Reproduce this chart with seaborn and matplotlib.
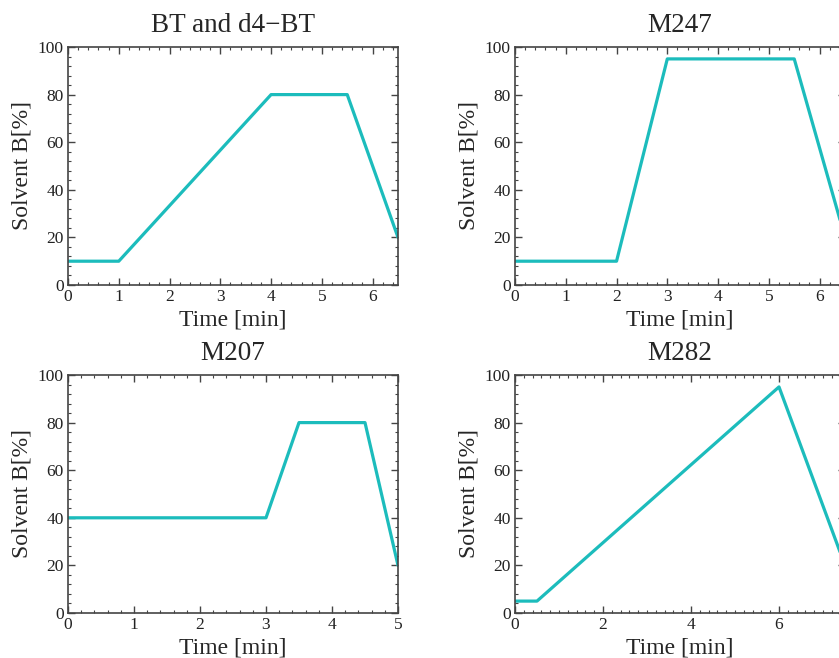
import matplotlib
matplotlib.use("Agg")
import matplotlib.pyplot as plt
from matplotlib.ticker import MultipleLocator, AutoMinorLocator
import seaborn as sns
import pandas as pd

# Data
titles = ["BT and d4\u2212BT", "M247", "M207", "M282"]
bt_time = [0, 1, 4, 5.5, 6.5]
bt_b = [10, 10, 80, 80, 20]
m247_time = [0, 2, 3, 5.5, 6.5]
m247_b = [10, 10, 95, 95, 20]
m207_time = [0, 3, 3.5, 4.5, 5]
m207_b = [40, 40, 80, 80, 20]
m282_time = [0, 0.5, 6, 7.5]
m282_b = [5, 5, 95, 20]
xlims = [6.5, 6.5, 5, 7.5]
xmajor = [1, 1, 1, 2]
xminor = [5, 5, 5, 10]

sns.set_theme(style="white")
plt.rcParams["font.family"] = ["Liberation Serif", "DejaVu Serif"]
plt.rcParams["mathtext.fontset"] = "stix"

W, H = 839, 658
fig = plt.figure(figsize=(W / 100, H / 100), dpi=100)
fig.patch.set_facecolor("white")

# axes boxes in pixels: (left, top, right, bottom)
boxes = [(68, 47, 398, 285), (515, 47, 845, 285),
         (68, 375, 398, 613), (515, 375, 845, 613)]
series = [(bt_time, bt_b), (m247_time, m247_b), (m207_time, m207_b), (m282_time, m282_b)]

line_color = "#1cbcbc"
frame_color = "#444444"

for i, (box, (t, b)) in enumerate(zip(boxes, series)):
    l, tp, r, bt = box
    ax = fig.add_axes([l / W, 1 - bt / H, (r - l) / W, (bt - tp) / H])
    df = pd.DataFrame({"Time": t, "B": b})
    sns.lineplot(data=df, x="Time", y="B", ax=ax, color=line_color, linewidth=2.3,
                 sort=False, estimator=None)
    ax.set_xlim(0, xlims[i])
    ax.set_ylim(0, 100)
    ax.xaxis.set_major_locator(MultipleLocator(xmajor[i]))
    ax.xaxis.set_minor_locator(AutoMinorLocator(xminor[i]))
    ax.yaxis.set_major_locator(MultipleLocator(20))
    ax.yaxis.set_minor_locator(AutoMinorLocator(5))
    ax.tick_params(which="both", direction="in", top=True, right=True,
                   bottom=True, left=True, colors="#222222", labelsize=12.5,
                   pad=3)
    ax.tick_params(which="major", length=5, width=1, color=frame_color)
    ax.tick_params(which="minor", length=2.5, width=0.8, color=frame_color)
    for sp in ax.spines.values():
        sp.set_color(frame_color)
        sp.set_linewidth(1.2)
    ax.set_xlabel("Time [min]", fontsize=17, labelpad=3)
    ax.set_ylabel("Solvent B[%]", fontsize=17, labelpad=4)
    ax.set_title(titles[i], fontsize=19.5, pad=11)

fig.savefig("out.png", dpi=100)
